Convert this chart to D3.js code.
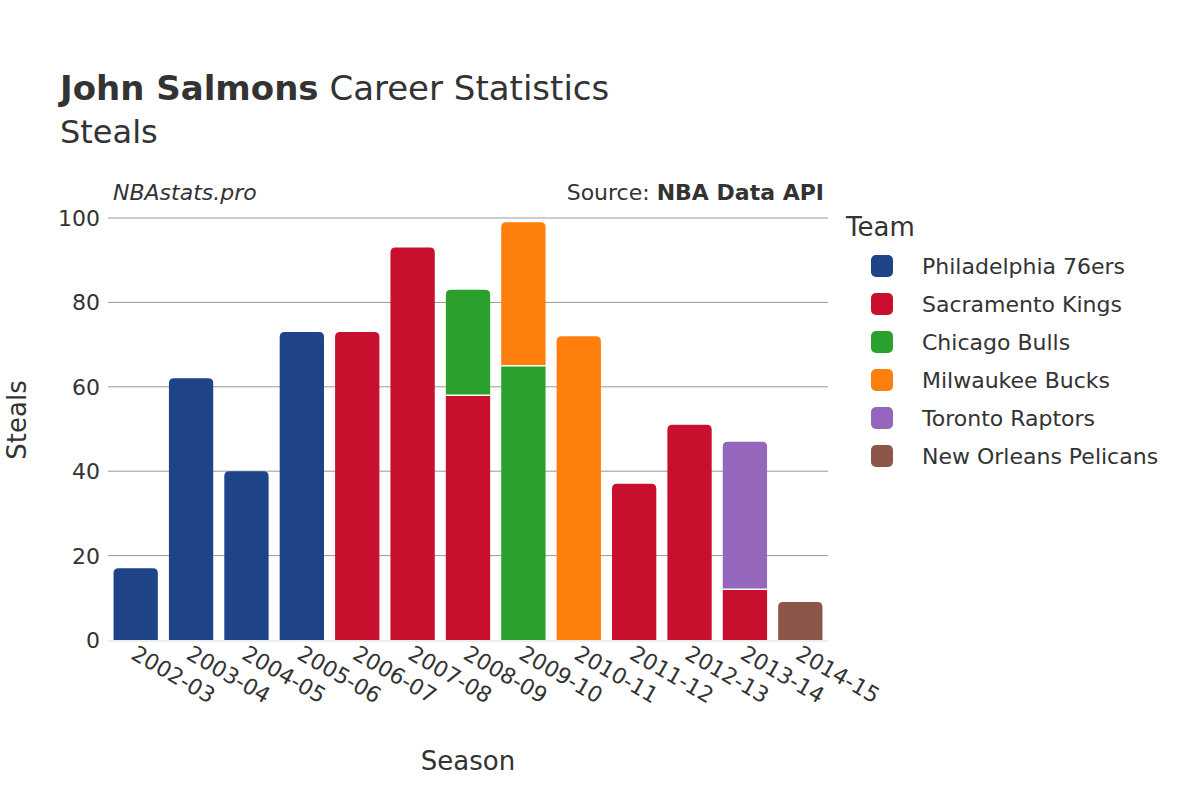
<!DOCTYPE html><html><head><meta charset="utf-8">
<script src="https://cdn.jsdelivr.net/npm/d3@7"></script>
<style>body{margin:0;background:#fff}text{font-family:"DejaVu Sans",sans-serif;fill:#333}</style>
</head><body><svg id="c" width="1200" height="800"></svg>
<script>
const seasons=["2002-03","2003-04","2004-05","2005-06","2006-07","2007-08","2008-09","2009-10","2010-11","2011-12","2012-13","2013-14","2014-15"];
const teams=["Philadelphia 76ers","Sacramento Kings","Chicago Bulls","Milwaukee Bucks","Toronto Raptors","New Orleans Pelicans"];
const colors=["#1f4387","#c8102e","#2ca02c","#ff7f0e","#9467bd","#8c564b"];
const phi=[17,62,40,73,0,0,0,0,0,0,0,0,0];
const sac=[0,0,0,0,73,93,58,0,0,37,51,12,0];
const chi=[0,0,0,0,0,0,25,65,0,0,0,0,0];
const mil=[0,0,0,0,0,0,0,34,72,0,0,0,0];
const tor=[0,0,0,0,0,0,0,0,0,0,0,35,0];
const nop=[0,0,0,0,0,0,0,0,0,0,0,0,9];
const series=[phi,sac,chi,mil,tor,nop];
const yTicks=[0,20,40,60,80,100];
const svg=d3.select("#c");
const x=d3.scaleBand().domain(seasons).range([108,828]).paddingInner(0.2).paddingOuter(0.1);
const y=d3.scaleLinear().domain([0,100]).range([640,218]);
svg.append("g").selectAll("line").data(yTicks.slice(1)).join("line")
 .attr("x1",108).attr("x2",828).attr("y1",d=>y(d)).attr("y2",d=>y(d)).attr("stroke","#999").attr("stroke-width",1);
svg.append("line").attr("x1",108).attr("x2",828).attr("y1",y(0)+1).attr("y2",y(0)+1).attr("stroke","#eee").attr("stroke-width",2);
svg.append("g").selectAll("text").data(yTicks).join("text").attr("x",100).attr("y",d=>y(d)+8)
 .attr("text-anchor","end").attr("font-size",22).text(d=>d);
function path(x0,w,yb,yt,r){r=Math.min(r,(yb-yt));return `M${x0},${yb}V${yt+r}Q${x0},${yt} ${x0+r},${yt}H${x0+w-r}Q${x0+w},${yt} ${x0+w},${yt+r}V${yb}Z`;}
seasons.forEach((s,i)=>{let base=0;const segs=[];series.forEach((arr,k)=>{if(arr[i]>0){segs.push({k,b:base,t:base+arr[i]});base+=arr[i];}});
 segs.forEach((g,j)=>{const top=j===segs.length-1;
  svg.append("path").attr("d",path(x(s),x.bandwidth(),y(g.b),y(g.t),top?5:0)).attr("fill",colors[g.k]);
  if(j>0)svg.append("line").attr("x1",x(s)).attr("x2",x(s)+x.bandwidth()).attr("y1",y(g.b)).attr("y2",y(g.b)).attr("stroke","#fff").attr("stroke-width",1.5);});});
svg.append("g").selectAll("text").data(seasons).join("text")
 .attr("transform",d=>`translate(${x(d)+x.bandwidth()/2-6},${658}) rotate(30)`).attr("font-size",22).text(d=>d);
svg.append("text").attr("x",60).attr("y",100).attr("font-size",34).html('<tspan font-weight="bold">John Salmons</tspan> Career Statistics');
svg.append("text").attr("x",60).attr("y",143).attr("font-size",32).text("Steals");
svg.append("text").attr("x",113).attr("y",200).attr("font-size",22).attr("font-style","italic").text("NBAstats.pro");
svg.append("text").attr("x",824).attr("y",200).attr("font-size",22).attr("text-anchor","end").html('Source: <tspan font-weight="bold">NBA Data API</tspan>');
svg.append("text").attr("x",468).attr("y",770).attr("font-size",26).attr("text-anchor","middle").text("Season");
svg.append("text").attr("transform","translate(26,420) rotate(-90)").attr("font-size",26).attr("text-anchor","middle").text("Steals");
svg.append("text").attr("x",846).attr("y",236).attr("font-size",26).text("Team");
const lg=svg.append("g").selectAll("g").data(teams).join("g").attr("transform",(d,i)=>`translate(0,${266+i*38})`);
lg.append("rect").attr("x",871).attr("y",-11).attr("width",22).attr("height",22).attr("rx",5).attr("fill",(d,i)=>colors[i]);
lg.append("text").attr("x",922).attr("y",8).attr("font-size",22).text(d=>d);
</script></body></html>
